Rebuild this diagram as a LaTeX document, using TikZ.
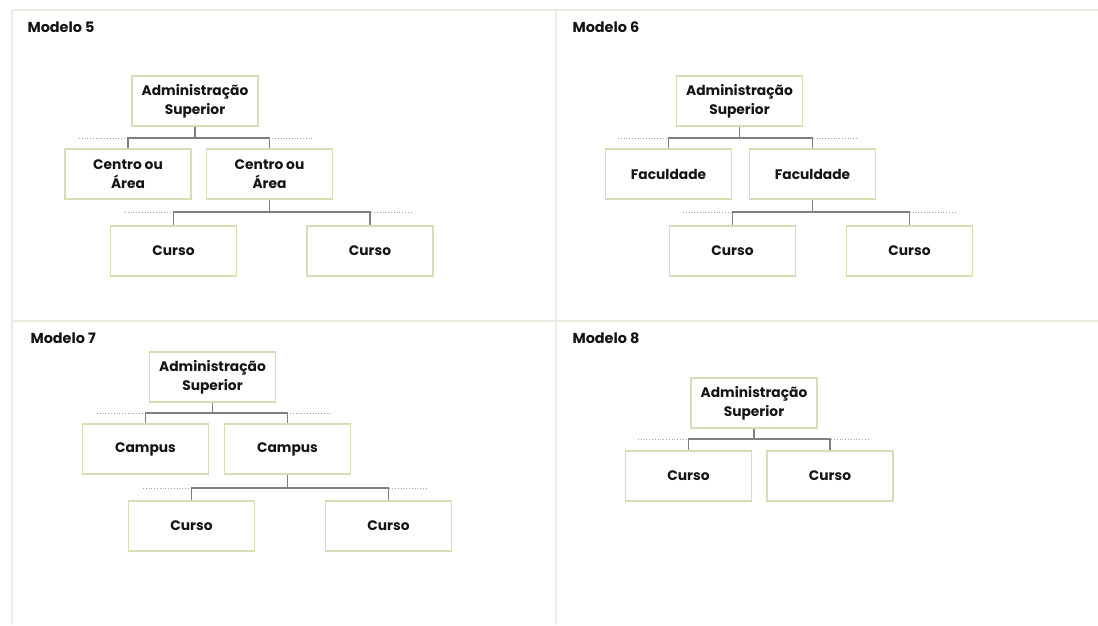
\documentclass[tikz,border=0pt]{standalone}
\usepackage{fontspec}
\setmainfont{Poppins}
\begin{document}
\begin{tikzpicture}[x=1pt,y=-1pt,
  grid/.style={draw=gridline,line width=2pt},
  unit/.style={draw=boxgreen,line width=1.6pt,fill=white,rectangle,
    minimum width=126pt,minimum height=50pt,inner sep=0pt,
    align=center,font=\fontsize{13.8}{19}\selectfont\bfseries,text=black!92},
  conn/.style={draw=linegray,line width=1.6pt},
  guide/.style={draw=linegray!70,line width=0.8pt,dotted},
  title/.style={anchor=west,font=\fontsize{14.4}{17}\selectfont\bfseries,text=black!92}]
\definecolor{gridline}{HTML}{EAEDE2}
\definecolor{boxgreen}{HTML}{D6DEB6}
\definecolor{linegray}{HTML}{7F7F7F}
\useasboundingbox (0,0) rectangle (1098,625);
\fill[white] (0,0) rectangle (1098,625);

% panel grid
\draw[grid] (12,10) -- (1098,10);
\draw[grid] (12,10) -- (12,625);
\draw[grid] (556,10) -- (556,625);
\draw[grid] (12,321) -- (1098,321);

% ---------- Modelo 5 ----------
\node[title] (t5) at (24,27) {Modelo 5};
\coordinate (b5l) at (79,138);  \coordinate (b5r) at (312,138);
\coordinate (d5l) at (125,212); \coordinate (d5r) at (411,212);
\draw[guide] (b5l) -- (b5r);
\draw[guide] (d5l) -- (d5r);
\node[unit] (a5)  at (195,101)   {Administração\\Superior};
\node[unit] (c5a) at (128,174)   {Centro ou\\Área};
\node[unit] (c5b) at (269.5,174) {Centro ou\\Área};
\node[unit] (k5a) at (173.5,251) {Curso};
\node[unit] (k5b) at (370,251)   {Curso};
\draw[conn] (a5.south) -- (a5.south |- b5l) -| (c5a.north);
\draw[conn] (a5.south |- b5l) -| (c5b.north);
\draw[conn] (c5b.south) -- (c5b.south |- d5l) -| (k5a.north);
\draw[conn] (c5b.south |- d5l) -| (k5b.north);

% ---------- Modelo 6 ----------
\node[title] (t6) at (569,27) {Modelo 6};
\coordinate (b6l) at (618,138); \coordinate (b6r) at (858,138);
\coordinate (d6l) at (683,212); \coordinate (d6r) at (956,212);
\draw[guide] (b6l) -- (b6r);
\draw[guide] (d6l) -- (d6r);
\node[unit] (a6)  at (739.5,101) {Administração\\Superior};
\node[unit] (f6a) at (668.5,174) {Faculdade};
\node[unit] (f6b) at (812.5,174) {Faculdade};
\node[unit] (k6a) at (732.5,251) {Curso};
\node[unit] (k6b) at (909.5,251) {Curso};
\draw[conn] (a6.south) -- (a6.south |- b6l) -| (f6a.north);
\draw[conn] (a6.south |- b6l) -| (f6b.north);
\draw[conn] (f6b.south) -- (f6b.south |- d6l) -| (k6a.north);
\draw[conn] (f6b.south |- d6l) -| (k6b.north);

% ---------- Modelo 7 ----------
\node[title] (t7) at (27,338) {Modelo 7};
\coordinate (b7l) at (97,413);  \coordinate (b7r) at (330,413);
\coordinate (d7l) at (143,488); \coordinate (d7r) at (428,488);
\draw[guide] (b7l) -- (b7r);
\draw[guide] (d7l) -- (d7r);
\node[unit] (a7)  at (212.5,377) {Administração\\Superior};
\node[unit] (p7a) at (145.5,449) {Campus};
\node[unit] (p7b) at (287.5,449) {Campus};
\node[unit] (k7a) at (191.5,526) {Curso};
\node[unit] (k7b) at (388.5,526) {Curso};
\draw[conn] (a7.south) -- (a7.south |- b7l) -| (p7a.north);
\draw[conn] (a7.south |- b7l) -| (p7b.north);
\draw[conn] (p7b.south) -- (p7b.south |- d7l) -| (k7a.north);
\draw[conn] (p7b.south |- d7l) -| (k7b.north);

% ---------- Modelo 8 ----------
\node[title] (t8) at (569,338) {Modelo 8};
\coordinate (b8l) at (638,439); \coordinate (b8r) at (868,439);
\draw[guide] (b8l) -- (b8r);
\node[unit] (a8)  at (754,403)   {Administração\\Superior};
\node[unit] (k8a) at (688.5,476) {Curso};
\node[unit] (k8b) at (830,476)   {Curso};
\draw[conn] (a8.south) -- (a8.south |- b8l) -| (k8a.north);
\draw[conn] (a8.south |- b8l) -| (k8b.north);
\end{tikzpicture}
\end{document}
